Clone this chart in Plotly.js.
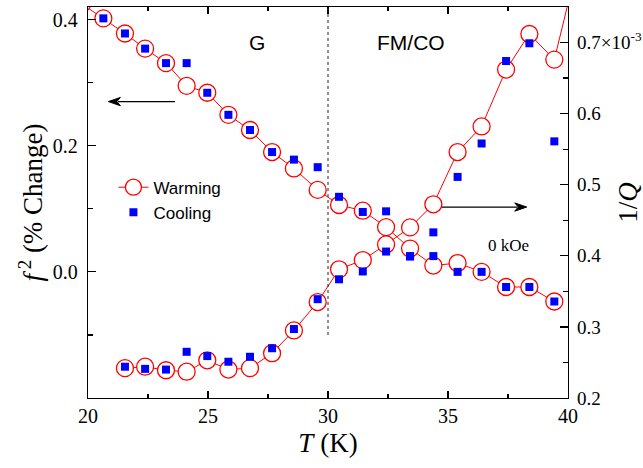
<!DOCTYPE html>
<html>
<head>
<meta charset="utf-8">
<script src="https://cdn.plot.ly/plotly-3.0.1.min.js"></script>
<style>html,body{margin:0;padding:0;background:#fff;}#chart{width:643px;height:468px;}</style>
</head>
<body>
<div id="chart"></div>
<script>
// Temperatures (K)
var T = [20.64, 21.54, 22.38, 23.25, 24.11, 24.97, 25.85, 26.75, 27.67, 28.58, 29.57,
         30.46, 31.45, 32.42, 33.42, 34.39, 35.4, 36.4, 37.42, 38.39, 39.43];
// f^2 (% change), warming (includes one point just left of the axis range)
var T_f_warm = [19.75].concat(T);
var f_warm = [0.425, 0.402, 0.378, 0.354, 0.331, 0.295, 0.284, 0.249, 0.225, 0.190, 0.164, 0.130,
              0.106, 0.097, 0.071, 0.037, 0.010, 0.014, 0.000, -0.024, -0.024, -0.047];
// f^2 (% change), cooling
var f_cool = [0.402, 0.378, 0.354, 0.331, 0.331, 0.284, 0.249, 0.225, 0.190, 0.178, 0.166,
              0.119, 0.095, 0.096, 0.025, 0.025, 0.000, 0.000, -0.024, -0.024, -0.047];
// 1/Q (x10^-3), warming (includes one point just right of the axis range)
var T_q = T.slice(1);
var T_q_warm = T_q.concat([40.4]);
var q_warm = [0.242, 0.244, 0.239, 0.237, 0.253, 0.240, 0.242, 0.263, 0.295, 0.335,
              0.381, 0.394, 0.416, 0.440, 0.4725, 0.546, 0.582, 0.662, 0.712, 0.676, 0.81];
// 1/Q (x10^-3), cooling
var q_cool = [0.244, 0.241, 0.240, 0.265, 0.259, 0.251, 0.258, 0.270, 0.297, 0.339,
              0.367, 0.378, 0.406, 0.399, 0.433, 0.511, 0.558, 0.674, 0.699, 0.561];
// Tick labels
var f_tickvals = [0.0, 0.2, 0.4];
var f_ticktext = ['0.0', '0.2', '0.4'];
var f_minorvals = [-0.1, 0.1, 0.3];
var q_tickvals = [0.2, 0.3, 0.4, 0.5, 0.6, 0.7];
var q_ticktext = ['0.2', '0.3', '0.4', '0.5', '0.6', '0.7×10<sup>-3</sup>'];

var RED = '#ff0000', BLUE = '#0000ff';
var serif = 'Liberation Serif, Times New Roman, serif';
var sans = 'Liberation Sans, Arial, sans-serif';

var warmMarker = {symbol: 'circle', size: 17, color: '#ffffff', line: {color: RED, width: 1.3}};
var coolMarker = {symbol: 'square', size: 8, color: BLUE, line: {width: 0}};

var traces = [
  {x: T_f_warm, y: f_warm, name: 'Warming', type: 'scatter', mode: 'lines+markers',
   line: {color: RED, width: 1}, marker: warmMarker, xaxis: 'x', yaxis: 'y'},
  {x: T, y: f_cool, name: 'Cooling', type: 'scatter', mode: 'markers',
   marker: coolMarker, xaxis: 'x', yaxis: 'y'},
  {x: T_q_warm, y: q_warm, name: 'Warming', showlegend: false, type: 'scatter', mode: 'lines+markers',
   line: {color: RED, width: 1}, marker: warmMarker, xaxis: 'x', yaxis: 'y2'},
  {x: T_q, y: q_cool, name: 'Cooling', showlegend: false, type: 'scatter', mode: 'markers',
   marker: coolMarker, xaxis: 'x', yaxis: 'y2'}
];

// arrow geometry helpers (axis units): 1 px = 1/24 K on x, 1/632.5 on left y
var hx = 0.5, hy = 0.0066;
function arrowShapes(xTail, xTip, y) {
  var dir = xTip > xTail ? 1 : -1;
  var base = xTip - dir * hx;
  return [
    {type: 'line', xref: 'x', yref: 'y', x0: xTail, x1: base + dir * 0.1, y0: y, y1: y,
     line: {color: '#000', width: 1.2}},
    {type: 'path', xref: 'x', yref: 'y',
     path: 'M' + xTip + ',' + y + ' L' + base + ',' + (y + hy) + ' L' + (base + dir * 0.15) + ',' + y +
           ' L' + base + ',' + (y - hy) + ' Z',
     fillcolor: '#000', line: {color: '#000', width: 1}}
  ];
}

var layout = {
  width: 643, height: 468,
  margin: {l: 88, r: 75, t: 7, b: 70},
  paper_bgcolor: '#fff', plot_bgcolor: '#fff',
  showlegend: true,
  legend: {x: 0.053, y: 0.584, xanchor: 'left', yanchor: 'top', bgcolor: 'rgba(0,0,0,0)',
           font: {family: sans, size: 17, color: '#000'}, tracegroupgap: 0},
  xaxis: {
    range: [20, 40], dtick: 5, tick0: 20, showgrid: false, zeroline: false,
    showline: true, linecolor: '#000', linewidth: 1.3, mirror: 'ticks',
    ticks: 'inside', ticklen: 7, tickwidth: 1.2, tickcolor: '#000',
    minor: {dtick: 2.5, ticks: 'inside', ticklen: 4, tickwidth: 1.2, tickcolor: '#000'},
    tickfont: {family: serif, size: 20, color: '#000'}, ticklabelstandoff: 0,
    title: {text: '<i>T</i> (K)', font: {family: serif, size: 27, color: '#000'}, standoff: 6}
  },
  yaxis: {
    range: [-0.2, 0.42], tickmode: 'array', tickvals: f_tickvals, ticktext: f_ticktext,
    showgrid: false, zeroline: false,
    showline: true, linecolor: '#000', linewidth: 1.3,
    ticks: 'inside', ticklen: 8, tickwidth: 1.2, tickcolor: '#000',
    minor: {tickmode: 'array', tickvals: f_minorvals, ticks: 'inside', ticklen: 5, tickwidth: 1.2, tickcolor: '#000'},
    tickfont: {family: serif, size: 20, color: '#000'}, ticklabelstandoff: 5,
    title: {text: '<i>f</i><sup> 2</sup> (% Change)', font: {family: serif, size: 27, color: '#000'}, standoff: 2}
  },
  yaxis2: {
    overlaying: 'y', side: 'right', range: [0.2, 0.75],
    tickmode: 'array', tickvals: q_tickvals, ticktext: q_ticktext,
    showgrid: false, zeroline: false, showline: true, linecolor: '#000', linewidth: 1.3,
    ticks: 'inside', ticklen: 8, tickwidth: 1.2, tickcolor: '#000',
    minor: {tickmode: 'linear', tick0: 0.25, dtick: 0.1, ticks: 'inside', ticklen: 5, tickwidth: 1.2, tickcolor: '#000'},
    tickfont: {family: serif, size: 19, color: '#000'}, ticklabelstandoff: 4,
    title: {text: '1/<i>Q</i>', font: {family: serif, size: 27, color: '#000'}, standoff: 14}
  },
  shapes: [
    {type: 'line', xref: 'x', yref: 'y', x0: 30, x1: 30, y0: -0.1, y1: 0.42,
     line: {color: '#222', width: 1, dash: 'dot'}}
  ].concat(arrowShapes(23.62, 20.85, 0.27)).concat(arrowShapes(34.74, 38.28, 0.1028)),
  annotations: [
    {xref: 'x', yref: 'y', x: 27.03, y: 0.363, text: 'G', showarrow: false,
     font: {family: sans, size: 21, color: '#000'}},
    {xref: 'x', yref: 'y', x: 33.45, y: 0.363, text: 'FM/CO', showarrow: false,
     font: {family: sans, size: 21, color: '#000'}},
    {xref: 'x', yref: 'y', x: 37.5, y: 0.0416, text: '0 kOe', showarrow: false,
     font: {family: serif, size: 17, color: '#000'}}
  ]
};

Plotly.newPlot('chart', traces, layout, {displayModeBar: false, staticPlot: true});
</script>
</body>
</html>
